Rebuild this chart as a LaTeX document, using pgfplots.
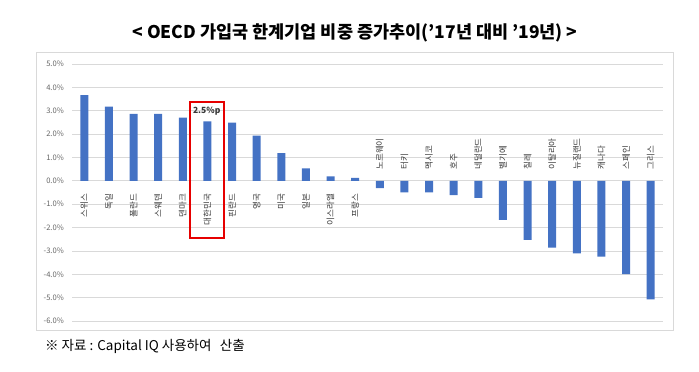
\documentclass[border=0pt]{standalone}
\usepackage{fontspec}
\setmainfont{Noto Sans CJK KR}
\usepackage{pgfplots}
\pgfplotsset{compat=1.18}
\definecolor{barblue}{RGB}{68,114,196}
\definecolor{gridgray}{RGB}{217,217,217}
\definecolor{ticktext}{RGB}{100,100,100}
\definecolor{cattext}{RGB}{55,55,55}
\definecolor{framegray}{RGB}{217,217,217}
\definecolor{boxred}{RGB}{230,0,0}
\begin{document}
\begin{tikzpicture}
\path[use as bounding box] (0pt,0pt) rectangle (699pt,372pt);
\draw[framegray, line width=0.75pt] (36.7pt,42pt) rectangle (673pt,319.3pt);
\node[font=\fontsize{17.5}{19}\selectfont\bfseries, inner sep=0pt] at (355pt,339.5pt) {< OECD 가입국 한계기업 비중 증가추이('17년 대비 '19년) >};
\node[font=\fontsize{13.5}{15}\selectfont, anchor=west, inner sep=0pt] at (45pt,26pt) {※ 자료 : Capital IQ 사용하여\hspace{0.4em} 산출};
\begin{axis}[at={(72pt,51pt)}, anchor=south west, scale only axis,
  width=591pt, height=257pt,
  xmin=-0.5, xmax=23.5, ymin=-6, ymax=5,
  ytick={-6,-5,-4,-3,-2,-1,0,1,2,3,4,5},
  yticklabels={-6.0\%,-5.0\%,-4.0\%,-3.0\%,-2.0\%,-1.0\%,0.0\%,1.0\%,2.0\%,3.0\%,4.0\%,5.0\%},
  yticklabel style={font=\fontsize{7.6}{8}\selectfont, text=ticktext, inner sep=0pt, xshift=-8pt},
  xtick=\empty,
  ymajorgrids, major grid style={gridgray, line width=0.8pt},
  axis line style={draw=none}, major tick style={draw=none},
  clip=false]
\addplot[ybar, bar width=8pt, fill=barblue, draw=none] coordinates {
(0,3.67) (1,3.17) (2,2.87) (3,2.87) (4,2.70) (5,2.54) (6,2.49) (7,1.93)
(8,1.19) (9,0.53) (10,0.19) (11,0.13) (12,-0.31) (13,-0.50) (14,-0.50)
(15,-0.61) (16,-0.73) (17,-1.67) (18,-2.53) (19,-2.86) (20,-3.11)
(21,-3.24) (22,-3.99) (23,-5.07)};
\begin{scope}[every node/.style={rotate=90, inner sep=0pt, font=\fontsize{8.5}{9}\selectfont, text=cattext}]
\node[anchor=east] at (axis cs:0,-0.56) {스위스};
\node[anchor=east] at (axis cs:1,-0.56) {독일};
\node[anchor=east] at (axis cs:2,-0.56) {폴란드};
\node[anchor=east] at (axis cs:3,-0.56) {스웨덴};
\node[anchor=east] at (axis cs:4,-0.56) {덴마크};
\node[anchor=east] at (axis cs:5,-0.56) {대한민국};
\node[anchor=east] at (axis cs:6,-0.56) {핀란드};
\node[anchor=east] at (axis cs:7,-0.56) {영국};
\node[anchor=east] at (axis cs:8,-0.56) {미국};
\node[anchor=east] at (axis cs:9,-0.56) {일본};
\node[anchor=east] at (axis cs:10,-0.56) {이스라엘};
\node[anchor=east] at (axis cs:11,-0.56) {프랑스};
\node[anchor=west] at (axis cs:12,0.47) {노르웨이};
\node[anchor=west] at (axis cs:13,0.47) {터키};
\node[anchor=west] at (axis cs:14,0.47) {멕시코};
\node[anchor=west] at (axis cs:15,0.47) {호주};
\node[anchor=west] at (axis cs:16,0.47) {네덜란드};
\node[anchor=west] at (axis cs:17,0.47) {벨기에};
\node[anchor=west] at (axis cs:18,0.47) {칠레};
\node[anchor=west] at (axis cs:19,0.47) {이탈리아};
\node[anchor=west] at (axis cs:20,0.47) {뉴질랜드};
\node[anchor=west] at (axis cs:21,0.47) {캐나다};
\node[anchor=west] at (axis cs:22,0.47) {스페인};
\node[anchor=west] at (axis cs:23,0.47) {그리스};
\end{scope}
\node[font=\fontsize{8.5}{9}\selectfont\bfseries, text=cattext, inner sep=0pt] at (axis cs:4.97,2.97) {2.5\%p};
\draw[boxred, line width=2pt] (axis cs:4.29,3.38) rectangle (axis cs:5.67,-2.43);
\end{axis}
\end{tikzpicture}
\end{document}
